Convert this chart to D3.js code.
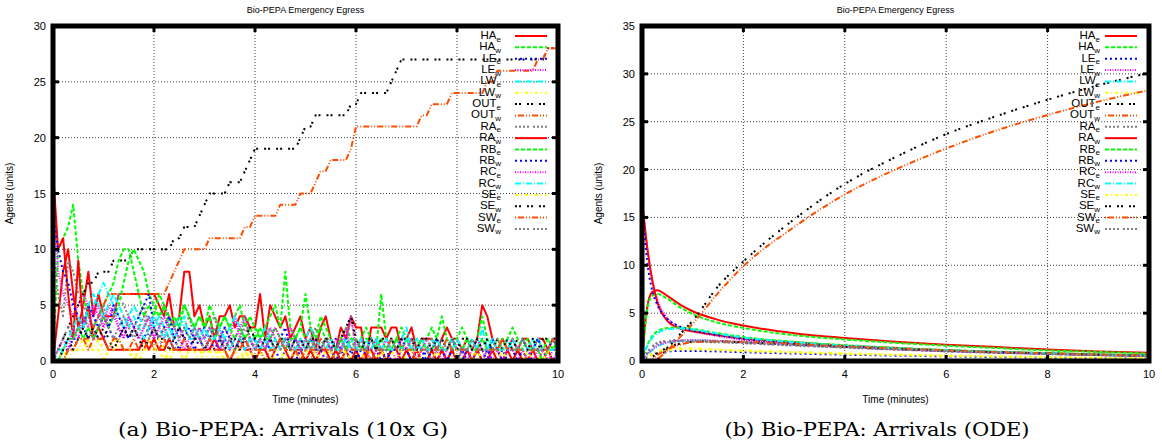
<!DOCTYPE html>
<meta charset="utf-8">
<style>
    body { margin: 0; padding: 0; background: #fff; }
    text { font-family: "Liberation Sans", Arial, sans-serif; fill: #000; }
    .grid line { stroke: #444; stroke-width: 1; stroke-dasharray: 1,2; }
    .caption { font-family: "DejaVu Serif", serif; font-size: 18px; }
</style>
<body>
<script src="https://d3js.org/d3.v7.min.js"></script>
<script>
    // sample grid of the stochastic runs (every 0.1 minute)
    var ssaTime = d3.range(0, 101).map(function(i) { return i / 10; });
    // sample grid
    var odeTime = [0, 0.1, 0.2, 0.3, 0.5, 0.75, 1, 1.5, 2, 3, 4, 5, 6, 7, 8, 9, 10];

    var seriesNames = ["HA", "HA", "LE", "LE", "LW", "LW", "OUT", "OUT", "RA", "RA", "RB", "RB", "RC", "RC", "SE", "SE", "SW", "SW"];
    var seriesSubs  = ["e", "w", "e", "w", "e", "w", "e", "w", "e", "w", "e", "w", "e", "w", "e", "w", "e", "w"];

    // ---- (a) 10x Gillespie ----
    var ssaHAe = [0,4,8,10,6,3,5,8,4,6, 4,4,4,6,6,6,6,6,6,6, 6,5,4,6,3,4,8,8,4,5, 3,4,2,4,4,5,3,4,4,3, 3,6,2,5,4,3,4,2,3,4, 2,3,1,3,4,2,1,3,2,4, 3,3,0,3,3,3,2,3,3,1, 2,3,1,2,2,2,1,2,3,2, 2,1,2,1,2,5,4,2,1,2, 1,2,1,2,2,1,2,2,1,2, 2];
    var ssaHAw = [0,10,11,12,14,9,6,4,3,4, 5,6,7,9,10,10,8,6,4,5, 4,6,5,4,3,4,5,4,3,4, 3,5,4,3,4,3,4,5,3,4, 3,2,3,4,5,3,8,3,2,3, 6,3,2,4,3,2,1,2,3,2, 1,2,3,2,1,6,2,1,2,3, 2,1,2,1,2,3,2,4,2,1, 2,3,2,1,2,4,2,1,2,1, 2,3,2,1,2,1,2,1,2,1, 2];
    var ssaLEe = [0,0,1,1,2,2,3,2,3,2, 2,3,2,2,3,2,3,2,2,3, 2,2,1,2,2,1,2,2,1,2, 1,2,1,1,2,1,1,2,1,1, 0,1,1,2,1,0,1,1,0,1, 1,0,1,1,0,1,2,1,0,1, 0,1,1,0,1,0,1,0,0,1, 1,0,1,0,1,0,0,1,0,1, 0,1,0,0,1,0,1,0,0,1, 0,0,1,0,1,0,0,1,0,0, 1];
    var ssaLEw = [15,8,6,5,4,5,6,5,4,5, 3,4,5,3,2,4,3,2,3,4, 2,3,2,4,3,2,1,2,3,2, 2,1,2,3,1,2,4,2,1,2, 1,2,1,3,2,1,2,1,1,2, 1,2,1,0,1,2,1,1,3,1, 1,2,1,0,1,1,2,1,0,1, 1,0,1,2,1,0,1,1,0,1, 0,1,1,0,1,2,1,0,1,0, 1,1,0,1,0,1,0,1,1,0, 1];
    var ssaLWe = [0,1,1,2,2,3,3,4,5,6, 7,6,5,4,3,4,5,4,3,4, 3,4,3,2,3,4,3,2,2,3, 2,3,2,1,2,3,4,3,2,2, 1,2,3,2,1,2,2,1,2,1, 2,3,2,1,2,1,1,2,1,2, 1,1,2,1,2,1,1,2,1,2, 3,1,2,1,1,2,1,1,2,1, 2,1,1,2,1,3,1,2,1,1, 2,1,1,2,1,1,2,1,1,1, 1];
    var ssaLWw = [0,0,0,1,1,1,2,1,1,2, 1,1,2,1,1,1,0,1,1,2, 1,1,0,1,1,1,0,1,1,0, 1,1,0,1,0,1,1,0,1,0, 0,1,0,1,0,0,1,0,1,0, 0,1,0,0,1,0,0,1,0,0, 1,0,0,1,0,0,0,1,0,0, 0,1,0,0,0,1,0,0,0,1, 0,0,0,1,0,0,0,0,1,0, 0,0,1,0,0,0,0,1,0,0, 0];
    var ssaOUTe = [0,1,2,3,4,5,6,7,7,8, 8,8,9,9,9,9,10,10,10,10, 10,10,10,10,11,11,12,12,12,13, 14,15,15,15,15,16,16,16,17,18, 19,19,19,19,19,19,19,19,19,20, 21,21,22,22,22,22,22,22,22,23, 23,24,24,24,24,24,24,25,26,27, 27,27,27,27,27,27,27,27,27,27, 27,27,27,27,27,27,27,27,27,27, 27,27,27,27,27,27,27,27,28,28, 28];
    var ssaOUTw = [0,0,0,1,1,2,2,2,3,4, 5,6,6,6,6,6,6,6,6,6, 6,6,6,7,8,9,10,10,10,10, 10,11,11,11,11,11,11,11,12,12, 13,13,13,13,13,14,14,14,14,15, 15,15,16,17,17,18,18,18,18,19, 21,21,21,21,21,21,21,21,21,21, 21,21,21,22,22,23,23,23,23,24, 24,24,24,24,24,24,25,25,26,26, 26,26,26,26,26,26,27,27,28,28, 28];
    var ssaRAe = [10,6,4,9,8,6,5,4,3,4, 5,3,4,6,5,4,3,4,5,3, 4,3,5,4,3,2,3,4,2,3, 2,3,4,2,3,2,1,2,3,2, 2,1,2,3,2,1,2,2,1,2, 1,2,3,1,2,1,1,2,1,4, 1,2,1,1,2,1,1,2,1,1, 2,1,1,2,1,0,1,2,1,1, 0,1,1,2,1,0,1,1,1,0, 1,2,1,0,1,1,1,0,1,1, 1];
    var ssaRAw = [17,10,11,6,2,9,3,5,2,3, 2,1,1,1,1,1,1,1,2,1, 2,1,1,2,1,1,1,1,1,1, 1,1,2,1,1,0,1,2,1,1, 0,1,1,0,1,2,1,0,1,1, 0,1,0,1,1,0,1,0,1,0, 1,0,1,1,0,1,0,1,1,0, 1,0,1,0,0,1,0,1,0,1, 0,0,1,0,1,0,0,1,0,0, 1,0,1,0,0,1,0,0,1,0, 0];
    var ssaRBe = [0,0,1,2,2,3,2,3,2,3, 4,3,4,5,7,9,10,9,8,6, 5,4,5,3,4,3,5,4,3,4, 3,4,2,3,4,3,2,3,2,3, 2,3,2,2,3,2,1,2,2,3, 2,1,2,3,2,2,1,2,1,2, 2,1,2,2,1,2,1,1,2,1, 2,1,1,2,1,1,2,1,1,2, 1,1,2,1,1,2,1,1,1,2, 1,1,1,2,1,1,1,0,1,1, 1];
    var ssaRBw = [13,10,8,7,5,4,3,5,4,3, 4,3,5,4,3,2,3,4,5,6, 3,2,3,4,2,3,2,3,2,2, 3,2,1,2,3,2,1,2,2,1, 2,1,2,1,1,2,3,1,2,1, 1,2,1,1,2,1,0,1,2,1, 1,0,1,2,1,1,0,1,1,2, 1,0,1,1,0,1,2,1,0,1, 1,0,1,0,1,1,0,2,1,0, 1,1,0,1,0,1,2,1,1,2, 1];
    var ssaRCe = [0,1,2,1,3,2,4,3,5,4, 3,5,4,3,2,4,3,2,3,4, 2,3,4,3,2,3,2,1,2,3, 2,3,2,1,2,1,2,3,4,2, 1,2,1,2,3,2,1,3,2,1, 2,1,2,1,2,1,2,1,2,4, 1,2,1,1,2,1,2,1,1,2, 1,2,0,1,2,1,1,0,1,2, 1,1,0,1,2,1,0,1,1,0, 1,1,1,2,1,0,1,1,0,1, 1];
    var ssaRCw = [0,0,1,2,3,4,3,5,6,5, 4,5,6,5,4,3,4,3,2,3, 4,3,2,3,2,3,4,2,3,2, 3,2,2,3,2,1,2,2,1,2, 2,1,2,1,2,1,2,1,1,2, 1,2,1,2,1,2,1,1,2,1, 1,2,1,1,2,1,2,1,1,1, 2,1,1,2,1,1,2,1,1,2, 1,1,1,2,1,1,1,2,1,1, 1,2,1,1,1,2,1,1,1,1, 1];
    var ssaSEe = [0,0,1,0,1,1,1,2,1,1, 0,1,1,2,1,1,1,0,1,1, 1,2,1,0,1,1,0,1,1,1, 0,1,1,0,1,0,1,1,0,1, 0,1,0,0,1,1,0,1,0,0, 1,0,1,0,0,1,0,0,1,0, 0,0,1,0,0,1,0,0,0,1, 0,0,1,0,0,0,1,0,0,0, 1,0,0,0,1,0,0,0,0,1, 0,0,0,0,1,0,0,0,1,0, 0];
    var ssaSEw = [0,0,1,2,1,2,3,2,3,2, 3,2,1,2,3,2,3,2,1,2, 3,2,2,1,2,3,2,1,2,2, 1,2,3,2,1,2,2,1,2,3, 2,1,2,2,1,2,2,1,2,2, 1,2,2,1,2,2,1,2,3,4, 2,1,2,2,1,2,2,2,1,2, 2,2,1,2,2,1,2,2,1,2, 1,2,2,1,2,1,2,1,2,1, 2,1,2,2,1,2,1,2,2,2, 2];
    var ssaSWe = [0,0,0,1,1,2,2,1,2,2, 2,1,2,2,1,1,2,1,1,2, 1,1,2,1,1,1,2,1,1,1, 1,2,1,1,1,0,1,1,2,1, 1,1,0,1,1,2,1,1,1,0, 1,1,1,2,1,1,0,1,1,1, 1,1,1,0,1,1,1,2,1,1, 1,1,0,1,1,1,1,1,2,1, 1,1,1,0,1,1,1,1,1,2, 1,1,1,1,0,1,1,1,1,2, 1];
    var ssaSWw = [0,1,2,3,2,3,4,3,2,3, 4,3,2,3,4,3,2,3,4,2, 3,2,3,2,1,2,3,2,3,2, 1,2,3,2,1,2,1,2,4,2, 1,2,1,2,1,1,2,1,2,1, 1,2,1,1,2,1,1,2,1,1, 2,1,1,2,1,1,1,2,1,1, 1,2,1,1,1,2,1,1,1,2, 1,1,1,2,1,1,1,1,2,1, 1,1,1,2,1,1,1,1,1,2, 1];

    // ---- (b) ODE ----
    var odeHAe  = [0, 5.5, 7.2, 7.4, 6.8, 5.9, 5.2, 4.3, 3.7, 2.9, 2.4, 2.0, 1.7, 1.45, 1.2, 1.0, 0.85];
    var odeHAw  = [0, 5.2, 6.8, 7.0, 6.5, 5.6, 4.9, 4.0, 3.45, 2.7, 2.25, 1.9, 1.6, 1.35, 1.1, 0.95, 0.78];
    var odeLEe  = [0, 0.4, 0.7, 0.85, 1.0, 1.05, 1.05, 1.0, 0.92, 0.78, 0.66, 0.56, 0.48, 0.41, 0.35, 0.3, 0.26];
    var odeLEw  = [16.5, 12, 8.5, 6.5, 4.5, 3.5, 3.1, 2.6, 2.2, 1.8, 1.5, 1.25, 1.05, 0.9, 0.75, 0.62, 0.52];
    var odeLWe  = [0, 0.6, 1.1, 1.5, 1.9, 2.1, 2.15, 2.1, 1.95, 1.7, 1.45, 1.25, 1.05, 0.9, 0.75, 0.62, 0.52];
    var odeLWw  = [0, 0.5, 0.8, 1.0, 1.25, 1.35, 1.3, 1.2, 1.1, 0.95, 0.8, 0.68, 0.58, 0.5, 0.42, 0.36, 0.3];
    var odeOUTe = [0, 0, 0, 0.2, 1.3, 2.8, 4.2, 7.8, 10.4, 14.8, 18.5, 21.3, 23.7, 25.6, 27.3, 28.8, 30.1];
    var odeOUTw = [0, 0, 0, 0.2, 1.1, 2.5, 3.9, 7.1, 9.9, 14.0, 17.4, 20.0, 22.2, 24.1, 25.7, 27.1, 28.3];
    var odeRAe  = [0, 0.8, 1.4, 1.8, 2.0, 2.05, 2.0, 1.95, 1.85, 1.6, 1.4, 1.2, 1.0, 0.85, 0.72, 0.6, 0.5];
    var odeRAw  = [17, 12.0, 8.5, 6.2, 4.2, 3.4, 3.1, 2.7, 2.35, 1.95, 1.6, 1.35, 1.12, 0.95, 0.8, 0.68, 0.57];
    var odeRBe  = [0, 1.6, 2.6, 3.1, 3.45, 3.5, 3.35, 2.9, 2.5, 2.0, 1.65, 1.38, 1.15, 0.98, 0.83, 0.7, 0.6];
    var odeRBw  = [16.5, 10.5, 7.4, 5.9, 4.4, 3.6, 3.2, 2.7, 2.3, 1.85, 1.55, 1.3, 1.08, 0.92, 0.78, 0.65, 0.55];
    var odeRCe  = [0, 0.7, 1.2, 1.6, 1.95, 2.15, 2.2, 2.1, 1.95, 1.7, 1.45, 1.22, 1.03, 0.88, 0.74, 0.62, 0.52];
    var odeRCw  = [0, 1.5, 2.4, 2.9, 3.3, 3.4, 3.3, 2.85, 2.45, 1.95, 1.6, 1.33, 1.12, 0.95, 0.8, 0.68, 0.57];
    var odeSEe  = [0, 0.3, 0.6, 0.8, 1.05, 1.2, 1.2, 1.12, 1.02, 0.87, 0.73, 0.62, 0.52, 0.45, 0.38, 0.32, 0.27];
    var odeSEw  = [0, 0.1, 0.4, 0.8, 1.4, 1.8, 2.0, 2.05, 1.95, 1.72, 1.48, 1.26, 1.07, 0.9, 0.77, 0.65, 0.55];
    var odeSWe  = [0, 0, 0.2, 0.6, 1.2, 1.7, 1.95, 2.05, 2.0, 1.78, 1.52, 1.3, 1.1, 0.93, 0.79, 0.67, 0.56];
    var odeSWw  = [0, 0.9, 1.5, 1.9, 2.1, 2.15, 2.1, 2.0, 1.9, 1.65, 1.42, 1.2, 1.02, 0.87, 0.74, 0.62, 0.52];

    var xTicks = [0, 2, 4, 6, 8, 10];
    var yTicksA = [0, 5, 10, 15, 20, 25, 30];
    var yTicksB = [0, 5, 10, 15, 20, 25, 30, 35];

    var ssaSeries = [ssaHAe, ssaHAw, ssaLEe, ssaLEw, ssaLWe, ssaLWw, ssaOUTe, ssaOUTw, ssaRAe,
                     ssaRAw, ssaRBe, ssaRBw, ssaRCe, ssaRCw, ssaSEe, ssaSEw, ssaSWe, ssaSWw];
    var odeSeries = [odeHAe, odeHAw, odeLEe, odeLEw, odeLWe, odeLWw, odeOUTe, odeOUTw, odeRAe,
                     odeRAw, odeRBe, odeRBw, odeRCe, odeRCw, odeSEe, odeSEw, odeSWe, odeSWw];

    // gnuplot postscript line types 1..9
    var ltColor = ["#ff0000", "#00ff00", "#0000ff", "#ff00ff", "#00ffff", "#ffff00", "#000000", "#ff4d00", "#808080"];
    var ltDash  = [null, "4,2", "2,3", "1,1.5", "6,2,1,2", "3,3,1,3", "2,2,2,6", "1,2,6,2,1,2", "2,2,2,2,2,2,2,4"];

    var svg = d3.select("body").append("svg")
        .attr("width", 1162)
        .attr("height", 443);

    function panel(id, opt) {
        var g = svg.append("g");
        var x = d3.scaleLinear().domain([0, 10]).range([opt.left, opt.right]);
        var y = d3.scaleLinear().domain([0, opt.yMax]).range([opt.bottom, opt.top]);

        svg.append("clipPath").attr("id", id)
            .append("rect")
            .attr("x", opt.left).attr("y", opt.top)
            .attr("width", opt.right - opt.left).attr("height", opt.bottom - opt.top);

        // grid
        var grid = g.append("g").attr("class", "grid");
        grid.selectAll(".gx").data(xTicks.slice(1, -1)).enter().append("line")
            .attr("x1", function(d) { return x(d); }).attr("x2", function(d) { return x(d); })
            .attr("y1", opt.top).attr("y2", opt.bottom);
        grid.selectAll(".gy").data(opt.yTicks.slice(1, -1)).enter().append("line")
            .attr("y1", function(d) { return y(d); }).attr("y2", function(d) { return y(d); })
            .attr("x1", opt.left).attr("x2", opt.right);

        // series
        var line = d3.line()
            .x(function(d) { return x(d[0]); })
            .y(function(d) { return y(d[1]); })
            .curve(opt.curve);
        var lines = g.append("g").attr("clip-path", "url(#" + id + ")");
        opt.series.forEach(function(vals, i) {
            var pts = vals.map(function(v, k) { return [opt.time[k], v]; })
                .filter(function(p) { return p[0] !== undefined; });
            lines.append("path")
                .attr("d", line(pts))
                .attr("fill", "none")
                .attr("stroke", ltColor[i % 9])
                .attr("stroke-width", 2)
                .attr("stroke-linejoin", "round")
                .attr("stroke-dasharray", ltDash[i % 9]);
        });

        // key
        var key = g.append("g");
        seriesNames.forEach(function(n, i) {
            var ly = opt.keyTop + i * 11.35;
            var t = key.append("text")
                .attr("x", opt.keyText).attr("y", ly + 3)
                .attr("text-anchor", "end")
                .style("font-size", "11.5px");
            t.append("tspan").text(n);
            t.append("tspan").attr("dy", 2.5).style("font-size", "8px").text(seriesSubs[i]);
            key.append("line")
                .attr("x1", opt.keyLine).attr("x2", opt.keyLine + 32)
                .attr("y1", ly).attr("y2", ly)
                .attr("stroke", ltColor[i % 9])
                .attr("stroke-width", 2)
                .attr("stroke-dasharray", ltDash[i % 9]);
        });

        // border and inward ticks
        g.append("rect")
            .attr("x", opt.left).attr("y", opt.top)
            .attr("width", opt.right - opt.left).attr("height", opt.bottom - opt.top)
            .attr("fill", "none").attr("stroke", "#000").attr("stroke-width", 5);
        var tk = g.append("g").attr("stroke", "#000").attr("stroke-width", 3);
        xTicks.forEach(function(d) {
            tk.append("line").attr("x1", x(d)).attr("x2", x(d)).attr("y1", opt.bottom).attr("y2", opt.bottom - 6);
            tk.append("line").attr("x1", x(d)).attr("x2", x(d)).attr("y1", opt.top).attr("y2", opt.top + 6);
        });
        opt.yTicks.forEach(function(d) {
            tk.append("line").attr("y1", y(d)).attr("y2", y(d)).attr("x1", opt.left).attr("x2", opt.left + 6);
            tk.append("line").attr("y1", y(d)).attr("y2", y(d)).attr("x1", opt.right).attr("x2", opt.right - 6);
        });

        // tick labels
        g.selectAll(".xl").data(xTicks).enter().append("text")
            .attr("x", function(d) { return x(d); }).attr("y", opt.bottom + 17)
            .attr("text-anchor", "middle").style("font-size", "11px")
            .text(function(d) { return d; });
        g.selectAll(".yl").data(opt.yTicks).enter().append("text")
            .attr("x", opt.left - 7).attr("y", function(d) { return y(d) + 4; })
            .attr("text-anchor", "end").style("font-size", "11px")
            .text(function(d) { return d; });

        var cx = (opt.left + opt.right) / 2;
        g.append("text").attr("x", cx).attr("y", 13)
            .attr("text-anchor", "middle").style("font-size", "9px")
            .text("Bio-PEPA Emergency Egress");
        g.append("text").attr("x", cx).attr("y", 403)
            .attr("text-anchor", "middle").style("font-size", "10px")
            .text("Time (minutes)");
        g.append("text")
            .attr("transform", "translate(" + (opt.left - 40) + "," + ((opt.top + opt.bottom) / 2) + ") rotate(-90)")
            .attr("text-anchor", "middle").style("font-size", "10px")
            .text("Agents (units)");
        g.append("text").attr("class", "caption")
            .attr("x", opt.capX).attr("y", 436)
            .attr("text-anchor", "middle")
            .attr("textLength", opt.capW)
            .attr("lengthAdjust", "spacingAndGlyphs")
            .text(opt.caption);
    }

    panel("clipA", {
        left: 53, right: 558, top: 26, bottom: 361, yMax: 30, yTicks: yTicksA,
        series: ssaSeries, time: ssaTime, curve: d3.curveLinear,
        keyTop: 36, keyText: 501, keyLine: 515,
        capX: 283, capW: 330, caption: "(a) Bio-PEPA: Arrivals (10x G)"
    });
    panel("clipB", {
        left: 642, right: 1149, top: 26, bottom: 361, yMax: 35, yTicks: yTicksB,
        series: odeSeries, time: odeTime, curve: d3.curveMonotoneX,
        keyTop: 36, keyText: 1100, keyLine: 1105,
        capX: 877, capW: 305, caption: "(b) Bio-PEPA: Arrivals (ODE)"
    });
</script>
</body>
</html>
